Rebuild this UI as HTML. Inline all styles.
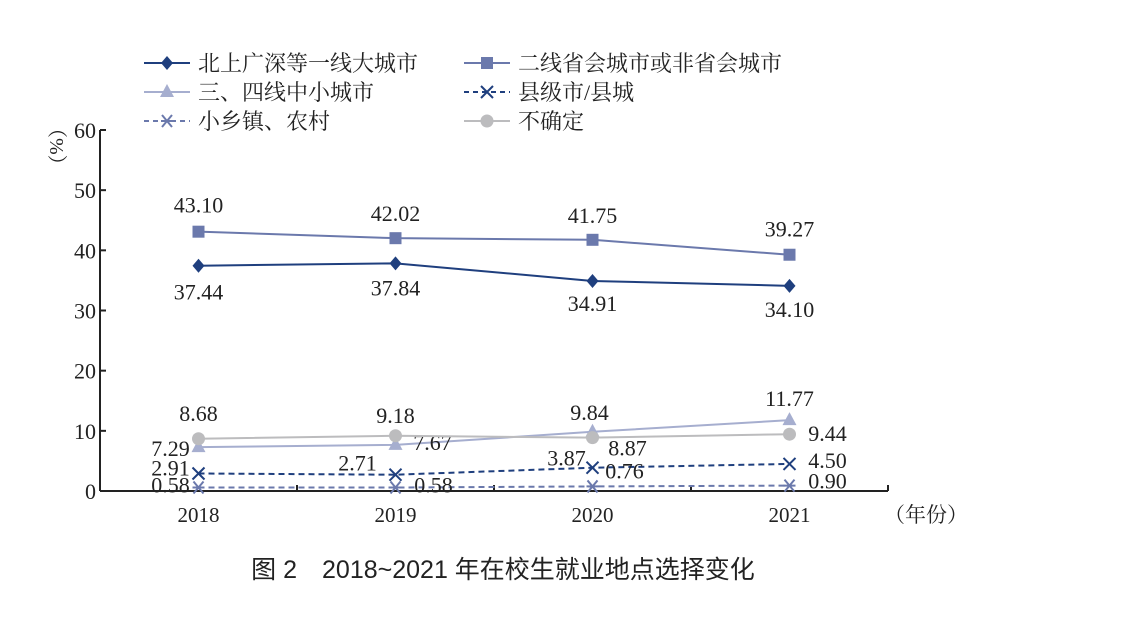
<!DOCTYPE html>
<html><head><meta charset="utf-8"><style>
body{margin:0;background:#fff;}
svg text{font-family:"Liberation Serif","Noto Serif CJK SC",serif;}
.cn{font-family:"Liberation Sans","Noto Sans CJK SC",sans-serif;}
.cs{font-family:"Liberation Serif","Noto Serif CJK SC",serif;}
</style></head><body>
<svg id="c" width="1126" height="638" xmlns="http://www.w3.org/2000/svg">
<g id="legend"></g>
<g id="axes"></g>
<g id="series"></g>
<text x="503" y="578" class="cn" font-size="25" text-anchor="middle" fill="#222">图 2　2018~2021 年在校生就业地点选择变化</text>
</svg>
<script>
const categories=["2018","2019","2020","2021"];
const yTicks=[0,10,20,30,40,50,60];
const tier1=[37.44,37.84,34.91,34.10];
const tier2=[43.10,42.02,41.75,39.27];
const tier34=[7.29,7.67,9.84,11.77];
const county=[2.91,2.71,3.87,4.50];
const town=[0.58,0.58,0.76,0.90];
const unsure=[8.68,9.18,8.87,9.44];
const names=["北上广深等一线大城市","二线省会城市或非省会城市","三、四线中小城市","县级市/县城","小乡镇、农村","不确定"];
const NS="http://www.w3.org/2000/svg";
const X0=100,X1=888,Y0=491,Y1=130;
const xs=i=>X0+(X1-X0)/4*(i+0.5);
const ys=v=>Y0-(Y0-Y1)*v/60;
function mk(p,t,a){const e=document.createElementNS(NS,t);for(const k in a)e.setAttribute(k,a[k]);p.appendChild(e);return e;}
const ax=document.getElementById('axes');
let l=mk(ax,'line',{x1:X0,y1:Y1,x2:X0,y2:Y0,stroke:'#222','stroke-width':2});


l=mk(ax,'line',{x1:X0,y1:Y0,x2:X1,y2:Y0,stroke:'#222','stroke-width':2});


yTicks.forEach(v=>{
 mk(ax,'line',{x1:X0,x2:X0+6,y1:ys(v),y2:ys(v),stroke:'#222','stroke-width':2});
 const t=mk(ax,'text',{x:X0-4,y:ys(v)+8,'font-size':22,'text-anchor':'end',fill:'#222'});t.textContent=v;
 
 
});
for(let i=1;i<=4;i++){const x=X0+(X1-X0)/4*i;mk(ax,'line',{x1:x,x2:x,y1:Y0-6,y2:Y0,stroke:'#222','stroke-width':2});}
categories.forEach((c,i)=>{const t=mk(ax,'text',{x:xs(i),y:522,'font-size':21,'text-anchor':'middle',fill:'#222'});t.textContent=c;
 
 });
let t=mk(ax,'text',{x:884,y:522,'font-size':21,fill:'#222',class:'cs'});t.textContent="（年份）";


t=mk(ax,'text',{x:50,y:118,'font-size':20,fill:'#222',transform:'rotate(90 50 118)',class:'cs'});t.textContent="（%）";


function marker(g,type,x,y,col){
 if(type==='d')mk(g,'path',{d:`M${x} ${y-7}L${x+6} ${y}L${x} ${y+7}L${x-6} ${y}Z`,fill:col});
 else if(type==='s')mk(g,'rect',{x:x-6,y:y-6,width:12,height:12,fill:col});
 else if(type==='t')mk(g,'path',{d:`M${x} ${y-8}L${x+7} ${y+5}L${x-7} ${y+5}Z`,fill:col});
 else if(type==='x'){mk(g,'path',{d:`M${x-6} ${y-6}L${x+6} ${y+6}M${x+6} ${y-6}L${x-6} ${y+6}`,stroke:col,'stroke-width':2});}
 else if(type==='a'){mk(g,'path',{d:`M${x-5} ${y-6}L${x+5} ${y+6}M${x+5} ${y-6}L${x-5} ${y+6}M${x-6} ${y}L${x+6} ${y}`,stroke:col,'stroke-width':2});}
 else mk(g,'circle',{cx:x,cy:y,r:6.5,fill:col});
}
const S=[
 {d:tier1,c:'#1f3f7e',m:'d',dash:null,n:'series-tier1',off:[[0,26],[0,24],[0,22],[0,23]]},
 {d:tier2,c:'#6b79ac',m:'s',dash:null,n:'series-tier2',off:[[0,-27],[0,-25],[0,-25],[0,-26]]},
 {d:tier34,c:'#a6aecf',m:'t',dash:null,n:'series-tier3-4',off:[[-28,1],[37,-3],[-3,-20],[0,-22]]},
 {d:county,c:'#1f3f7e',m:'x',dash:'6 4',n:'series-county',off:[[-28,-6],[-38,-12],[-26,-10],[38,-4]]},
 {d:town,c:'#6b79ac',m:'a',dash:'6 4',n:'series-town',off:[[-28,-3],[38,-3],[32,-16],[38,-5]]},
 {d:unsure,c:'#bcbcbe',m:'c',dash:null,n:'series-unsure',off:[[0,-26],[0,-21],[35,10],[38,-1]]}
];
const sg=document.getElementById('series');
S.forEach(s=>{
 const g=mk(sg,'g',{});
 
 
 const a={points:s.d.map((v,i)=>xs(i)+','+ys(v)).join(' '),fill:'none',stroke:s.c,'stroke-width':2};
 if(s.dash)a['stroke-dasharray']=s.dash;
 mk(g,'polyline',a);
 s.d.forEach((v,i)=>{marker(g,s.m,xs(i),ys(v),s.c);
  const tt=mk(g,'text',{x:xs(i)+s.off[i][0],y:ys(v)+s.off[i][1]+8,'font-size':22,'text-anchor':'middle',fill:'#222'});tt.textContent=v.toFixed(2);
  
  });
});
const lg=document.getElementById('legend');
S.forEach((s,k)=>{
 const col=k%2,row=Math.floor(k/2);
 const x=144+col*320,y=63+row*29;
 const g=mk(lg,'g',{});
 
 
 const a={x1:x,x2:x+46,y1:y,y2:y,stroke:s.c,'stroke-width':2};
 if(s.dash)a['stroke-dasharray']='5 4';
 mk(g,'line',a);marker(g,s.m,x+23,y,s.c);
 const tt=mk(g,'text',{x:x+54,y:y+8,'font-size':22,fill:'#222',class:'cs'});tt.textContent=names[k];
});
</script>
</body></html>
